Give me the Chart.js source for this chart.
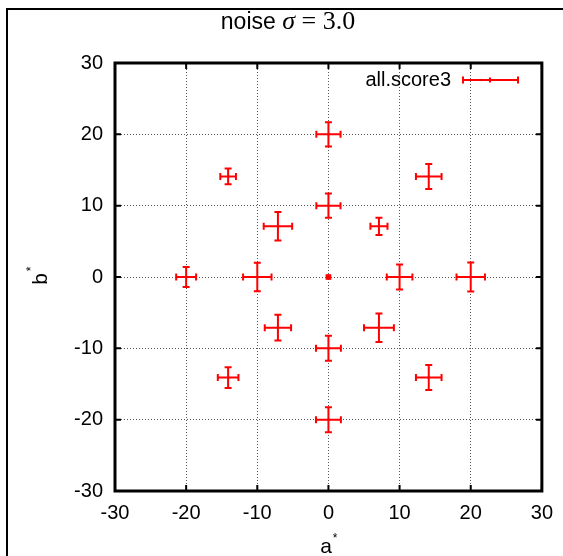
<!DOCTYPE html>
<html>
<head>
<meta charset="utf-8">
<script src="https://cdn.jsdelivr.net/npm/chart.js@4.4.1/dist/chart.umd.min.js"></script>
<style>
  html, body { margin: 0; padding: 0; background: #fff; }
</style>
</head>
<body>
<canvas id="chart" width="563" height="556"></canvas>
<script>
const aValues = [0, 0, 0, 0, 0, -20, -10, 10, 20, -14.1, 14.1, -14.1, 14.1, -7.1, 7.1, -7.1, 7.1];
const bValues = [20, 10, 0, -10, -20, 0, 0, 0, 0, 14.1, 14.1, -14.1, -14.1, 7.1, 7.1, -7.1, -7.1];
const aErrors = [1.7, 1.7, 0, 1.75, 1.75, 1.4, 2.0, 1.8, 2.0, 1.1, 1.8, 1.45, 1.8, 2.0, 1.2, 1.85, 2.1];
const bErrors = [1.7, 1.7, 0, 1.75, 1.75, 1.4, 2.0, 1.75, 2.05, 1.1, 1.75, 1.45, 1.75, 2.0, 1.2, 1.8, 2.0];
const axisTicks = [-30, -20, -10, 0, 10, 20, 30];
const seriesLabel = "all.score3";

const SANS = '"Liberation Sans", Arial, sans-serif';
const SERIF = '"Liberation Serif", "Times New Roman", serif';
const RED = "#ff0000";

function drawErrorCross(ctx, cx, cy, x0, x1, y0, y1) {
  const cap = 3.5;
  ctx.beginPath();
  ctx.moveTo(x0, cy); ctx.lineTo(x1, cy);
  ctx.moveTo(x0, cy - cap); ctx.lineTo(x0, cy + cap);
  ctx.moveTo(x1, cy - cap); ctx.lineTo(x1, cy + cap);
  ctx.moveTo(cx, y0); ctx.lineTo(cx, y1);
  ctx.moveTo(cx - cap, y0); ctx.lineTo(cx + cap, y0);
  ctx.moveTo(cx - cap, y1); ctx.lineTo(cx + cap, y1);
  ctx.stroke();
}

const errorBars = {
  id: "errorBars",
  afterDatasetsDraw(chart) {
    const { ctx, scales: { x, y } } = chart;
    ctx.save();
    ctx.strokeStyle = RED;
    ctx.lineWidth = 2;
    aValues.forEach((a, i) => {
      const b = bValues[i];
      if (!aErrors[i] && !bErrors[i]) return;
      drawErrorCross(ctx,
        x.getPixelForValue(a), y.getPixelForValue(b),
        x.getPixelForValue(a - aErrors[i]), x.getPixelForValue(a + aErrors[i]),
        y.getPixelForValue(b + bErrors[i]), y.getPixelForValue(b - bErrors[i]));
    });
    ctx.restore();
  },
};

const frame = {
  id: "frame",
  afterDraw(chart) {
    const { ctx, chartArea: area, scales: { x, y } } = chart;
    ctx.save();

    // outer figure frame
    ctx.strokeStyle = "#000";
    ctx.lineWidth = 2;
    ctx.beginPath();
    ctx.moveTo(7, 600); ctx.lineTo(7, 9); ctx.lineTo(600, 9);
    ctx.stroke();

    // inward tick marks
    ctx.lineWidth = 2;
    ctx.beginPath();
    axisTicks.forEach((v) => {
      const px = x.getPixelForValue(v);
      const py = y.getPixelForValue(v);
      ctx.moveTo(px, area.bottom); ctx.lineTo(px, area.bottom - 6);
      ctx.moveTo(px, area.top); ctx.lineTo(px, area.top + 6);
      ctx.moveTo(area.left, py); ctx.lineTo(area.left + 6, py);
      ctx.moveTo(area.right, py); ctx.lineTo(area.right - 6, py);
    });
    ctx.stroke();

    // plot border
    ctx.lineWidth = 3;
    ctx.strokeRect(area.left, area.top, area.right - area.left, area.bottom - area.top);

    // title
    ctx.fillStyle = "#000";
    ctx.textBaseline = "alphabetic";
    const parts = [
      { text: "noise ", font: "23px " + SANS },
      { text: "σ", font: "italic 26px " + SERIF },
      { text: " = 3.0", font: "26px " + SERIF },
    ];
    let total = 0;
    parts.forEach((p) => { ctx.font = p.font; p.w = ctx.measureText(p.text).width; total += p.w; });
    let tx = 288 - total / 2;
    parts.forEach((p) => { ctx.font = p.font; ctx.fillText(p.text, tx, 29); tx += p.w; });

    // axis titles
    ctx.font = "21px " + SANS;
    ctx.textAlign = "center";
    ctx.fillText("a", 326, 553);
    ctx.font = "12px " + SANS;
    ctx.fillText("*", 335, 542);

    ctx.save();
    ctx.translate(47, 277);
    ctx.rotate(-Math.PI / 2);
    ctx.font = "21px " + SANS;
    ctx.fillText("b", -2, 0);
    ctx.font = "12px " + SANS;
    ctx.fillText("*", 8, -12);
    ctx.restore();

    // legend
    ctx.font = "20px " + SANS;
    ctx.textAlign = "right";
    ctx.textBaseline = "middle";
    ctx.fillText(seriesLabel, 451, 80);
    ctx.strokeStyle = RED;
    ctx.lineWidth = 2;
    ctx.beginPath();
    ctx.moveTo(463, 80); ctx.lineTo(518, 80);
    ctx.moveTo(463, 76.5); ctx.lineTo(463, 83.5);
    ctx.moveTo(518, 76.5); ctx.lineTo(518, 83.5);
    ctx.moveTo(490, 77.5); ctx.lineTo(490, 82.5);
    ctx.stroke();

    ctx.restore();
  },
};

function axisOptions(size, pad) {
  return {
    type: "linear",
    min: -30,
    max: 30,
    afterBuildTicks: (scale) => { scale.ticks = axisTicks.map((v) => ({ value: v })); },
    afterFit: size,
    grid: { color: "#555", lineWidth: 1, drawTicks: false },
    border: { display: false, dash: [1, 2] },
    ticks: {
      color: "#000",
      font: { family: SANS, size: 20 },
      padding: pad,
      maxRotation: 0,
    },
  };
}

new Chart(document.getElementById("chart"), {
  type: "scatter",
  data: {
    datasets: [{
      label: seriesLabel,
      data: aValues.map((a, i) => ({ x: a, y: bValues[i] })),
      pointStyle: "rect",
      pointRadius: (c) => (aErrors[c.dataIndex] || bErrors[c.dataIndex] ? 1.5 : 4),
      backgroundColor: RED,
      borderWidth: 0,
    }],
  },
  options: {
    responsive: false,
    animation: false,
    layout: { padding: { top: 63, right: 21, left: 0, bottom: 0 } },
    plugins: { legend: { display: false }, tooltip: { enabled: false } },
    scales: {
      x: axisOptions((scale) => { scale.height = 65; }, 10),
      y: axisOptions((scale) => { scale.width = 115; }, 12),
    },
  },
  plugins: [errorBars, frame],
});
</script>
</body>
</html>
